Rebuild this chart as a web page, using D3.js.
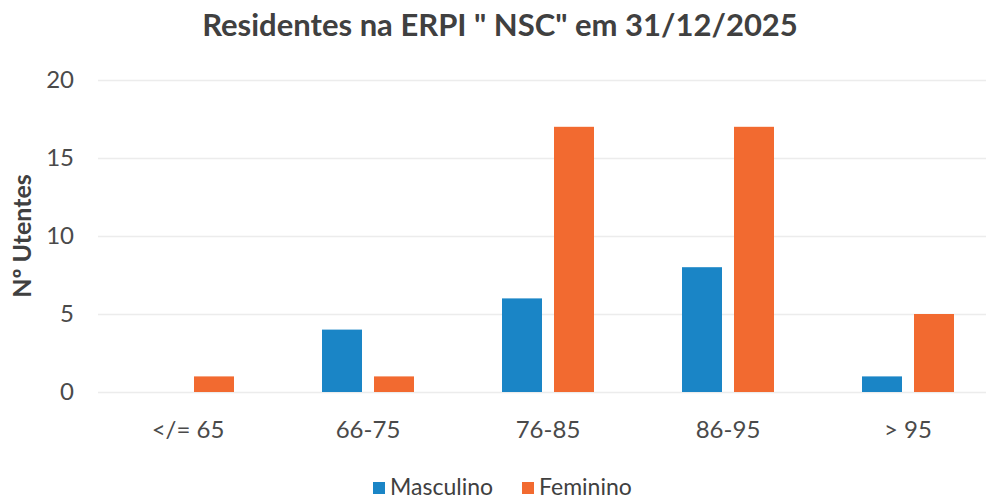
<!DOCTYPE html>
<html>
<head>
<meta charset="utf-8">
<script src="https://cdn.jsdelivr.net/npm/d3@7"></script>
<style>
body { margin: 0; background: #fff; }
svg { display: block; font-family: Lato, "Open Sans", sans-serif; }
</style>
</head>
<body>
<svg width="986" height="500"></svg>
<script>
var categories = ["</= 65", "66-75", "76-85", "86-95", "> 95"];
var series = ["Masculino", "Feminino"];
var masculino = [0, 4, 6, 8, 1];
var feminino = [1, 1, 17, 17, 5];
var yTicks = [0, 5, 10, 15, 20];
var colors = ["#1a85c6", "#f26a30"];

var svg = d3.select("svg");

var data = categories.map(function(c, i) {
  return {cat: c, values: [masculino[i], feminino[i]]};
});

var x0 = d3.scaleBand().domain(categories).range([98, 998]);
var x1 = d3.scaleBand().domain(series).range([44, 136]).paddingInner(0.2308);
var y = d3.scaleLinear().domain([0, 20]).range([392, 80]);
var color = d3.scaleOrdinal().domain(series).range(colors);

// gridlines
svg.append("g")
  .selectAll("line")
  .data(yTicks)
  .enter()
  .append("line")
  .attr("x1", 98)
  .attr("x2", 986)
  .attr("y1", function(d) { return y(d) + 0.5; })
  .attr("y2", function(d) { return y(d) + 0.5; })
  .attr("stroke", "#ececec")
  .attr("stroke-width", 1.5);

// y axis labels
var yAxis = d3.axisLeft(y).tickValues(yTicks).tickSize(0).tickPadding(0);
var gy = svg.append("g").attr("transform", "translate(74,0)").call(yAxis);
gy.select(".domain").remove();
gy.selectAll("text")
  .attr("font-family", "Lato, sans-serif")
  .attr("font-size", "24px")
  .attr("fill", "#4a4a4a");

// bars
svg.append("g")
  .selectAll("g")
  .data(data)
  .enter()
  .append("g")
  .attr("transform", function(d) { return "translate(" + x0(d.cat) + ",0)"; })
  .selectAll("rect")
  .data(function(d) { return series.map(function(s, i) { return {key: s, value: d.values[i]}; }); })
  .enter()
  .filter(function(d) { return d.value > 0; })
  .append("rect")
  .attr("x", function(d) { return x1(d.key); })
  .attr("width", x1.bandwidth())
  .attr("y", function(d) { return y(d.value); })
  .attr("height", function(d) { return y(0) - y(d.value); })
  .attr("fill", function(d) { return color(d.key); });

// x axis labels
var xAxis = d3.axisBottom(x0).tickSize(0).tickPadding(0);
var gx = svg.append("g").attr("transform", "translate(0,438)").call(xAxis);
gx.select(".domain").remove();
gx.selectAll("text")
  .attr("dy", 0)
  .attr("font-family", "Lato, sans-serif")
  .attr("font-size", "24px")
  .attr("fill", "#4a4a4a");

// title
svg.append("text")
  .attr("x", 500)
  .attr("y", 36)
  .attr("text-anchor", "middle")
  .attr("font-size", "31px")
  .attr("font-weight", "bold")
  .attr("fill", "#404040")
  .text('Residentes na ERPI " NSC" em 31/12/2025');

// y title
svg.append("text")
  .attr("transform", "translate(31,236) rotate(-90)")
  .attr("text-anchor", "middle")
  .attr("font-size", "25px")
  .attr("font-weight", "bold")
  .attr("fill", "#404040")
  .text("Nº Utentes");

// legend
var legendX = [373, 522];
var legend = svg.append("g")
  .selectAll("g")
  .data(series)
  .enter()
  .append("g")
  .attr("transform", function(d, i) { return "translate(" + legendX[i] + ",482)"; });
legend.append("rect")
  .attr("width", 12)
  .attr("height", 12)
  .attr("fill", function(d) { return color(d); });
legend.append("text")
  .attr("x", 17)
  .attr("y", 13)
  .attr("font-size", "23px")
  .attr("fill", "#404040")
  .text(function(d) { return d; });
</script>
</body>
</html>
